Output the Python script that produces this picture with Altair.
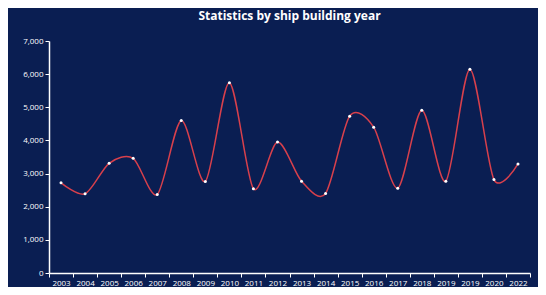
import altair as alt
import pandas as pd

labels = ["2003", "2004", "2005", "2006", "2007", "2008", "2009", "2010", "2011", "2012",
          "2013", "2014", "2015", "2016", "2017", "2018", "2019", "2019", "2020", "2022"]
values = [2720, 2390, 3310, 3460, 2370, 4600, 2760, 5740, 2540, 3950,
          2770, 2400, 4730, 4400, 2560, 4910, 2770, 6150, 2820, 3290]
y_ticks = [0, 1000, 2000, 3000, 4000, 5000, 6000, 7000]

df = pd.DataFrame({"idx": list(range(len(labels))), "label": labels, "value": values})

label_js = "[" + ",".join('"%s"' % l for l in labels) + "]"

x = alt.X("idx:O", title=None,
          axis=alt.Axis(labelExpr=label_js + "[datum.value]", labelAngle=0,
                        labelColor="white", labelFontSize=8, labelFont="Open Sans",
                        domainColor="white", tickColor="white", tickBand="extent",
                        tickSize=4, labelPadding=2, domainWidth=1.5),
          scale=alt.Scale(paddingInner=0, paddingOuter=0))
y = alt.Y("value:Q", title=None,
          scale=alt.Scale(domain=[0, 7000]),
          axis=alt.Axis(values=y_ticks, labelExpr="format(datum.value, ',.0f')",
                        labelColor="white", labelFontSize=8, labelFont="Open Sans",
                        domainColor="white", tickColor="white", tickSize=4,
                        grid=False, labelPadding=2, domainWidth=1.5))

base = alt.Chart(df).encode(x=x, y=y)
line = base.mark_line(interpolate="cardinal", tension=0.15, color="#d8404c", strokeWidth=1.5)
pts = base.mark_point(filled=True, color="white", size=9, opacity=1)

chart = (line + pts).properties(
    width=481, height=232,
    title=alt.TitleParams("Statistics by ship building year", color="white", fontSize=12,
                          font="Open Sans", fontWeight="bold", anchor="middle", offset=14),
    background="#0a1e52",
    padding={"left": 41, "top": 33, "right": 8, "bottom": 14},
    autosize=alt.AutoSizeParams(type="none"),
).configure_view(stroke=None)

chart.save("out.html", embed_options={"renderer": "svg", "actions": False})
